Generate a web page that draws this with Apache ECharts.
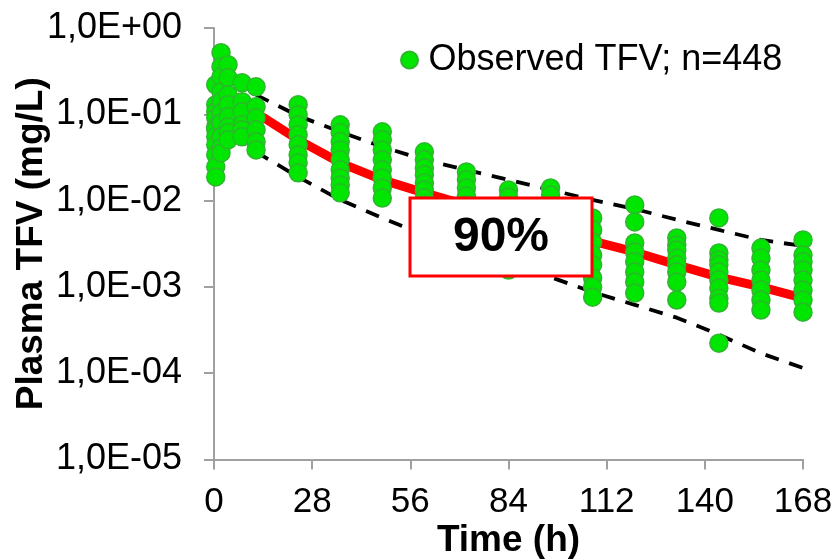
<!DOCTYPE html>
<html>
<head>
<meta charset="utf-8">
<script src="https://cdn.jsdelivr.net/npm/echarts@6/dist/echarts.min.js"></script>
<style>
  html, body { margin: 0; padding: 0; background: #ffffff; }
  #chart { width: 838px; height: 560px; }
</style>
</head>
<body>
<div id="chart"></div>
<script>
// Sampling times (h) of the observed plasma tenofovir (TFV) concentrations
const obsTimes = [0.5, 2, 4, 8, 12, 24, 36, 48, 60, 72, 84, 96, 108, 120, 132, 144, 156, 168];

// Observed concentrations (mg/L), one list per sampling time
const obsConc = [
  [0.220, 0.129, 0.107, 0.091, 0.0716, 0.0661, 0.0548, 0.0443, 0.0339, 0.0246, 0.0188],
  [0.517, 0.356, 0.272, 0.182, 0.140, 0.104, 0.0797, 0.0548, 0.0408, 0.0357],
  [0.375, 0.265, 0.168, 0.129, 0.0935, 0.0716, 0.061, 0.0506],
  [0.232, 0.140, 0.107, 0.0755, 0.0661, 0.0548],
  [0.208, 0.122, 0.091, 0.0661, 0.048, 0.0387],
  [0.129, 0.0986, 0.0755, 0.0578, 0.0443, 0.0339, 0.0274, 0.0210],
  [0.0755, 0.061, 0.048, 0.0387, 0.0297, 0.0227, 0.0183, 0.0152, 0.0123],
  [0.0627, 0.0506, 0.0387, 0.0297, 0.0227, 0.0183, 0.0140, 0.0107],
  [0.0367, 0.0297, 0.0239, 0.0199, 0.0160, 0.0133, 0.0107, 0.0089, 0.0074],
  [0.0215, 0.0174, 0.0140, 0.0113, 0.0089, 0.0068, 0.00523],
  [0.0133, 0.0110, 0.0078, 0.00523, 0.0035, 0.00234, 0.00157],
  [0.0140, 0.0116, 0.0078, 0.00523, 0.0035, 0.00234],
  [0.0063, 0.00457, 0.00332, 0.00234, 0.0018, 0.00127, 0.000998, 0.00076],
  [0.0089, 0.00566, 0.00323, 0.00254, 0.00195, 0.00149, 0.00114, 0.00085],
  [0.00369, 0.00306, 0.00268, 0.00216, 0.0018, 0.00149, 0.00114, 0.000705],
  [0.0063, 0.00247, 0.00205, 0.0018, 0.00149, 0.0012, 0.00097, 0.00074, 0.00065, 0.000223],
  [0.00282, 0.00216, 0.00157, 0.0012, 0.00092, 0.000705, 0.00054],
  [0.0035, 0.00234, 0.00195, 0.00157, 0.0012, 0.00092, 0.000705, 0.00051]
];

// Model prediction: median and 90% prediction interval (5th / 95th percentiles)
const predTimes = [12, 24, 36, 48, 60, 72, 84, 96, 108, 120, 132, 144, 156, 168];
const predMedian = [0.104, 0.0506, 0.0274, 0.0174, 0.0123, 0.0089, 0.00647, 0.0047, 0.0034, 0.00254, 0.0018, 0.0013, 0.001, 0.00074];
const predP95 = [0.168, 0.096, 0.0627, 0.042, 0.0297, 0.0227, 0.0174, 0.0133, 0.0102, 0.008, 0.006, 0.00457, 0.0035, 0.00298];
const predP05 = [0.0367, 0.0188, 0.0102, 0.0063, 0.004, 0.00268, 0.00184, 0.0013, 0.00087, 0.00062, 0.00044, 0.00028, 0.00017, 0.000115];

// Axis tick labels
const xTicks = [0, 28, 56, 84, 112, 140, 168];
const yTickLabels = ['1,0E-05', '1,0E-04', '1,0E-03', '1,0E-02', '1,0E-01', '1,0E+00'];

const obsName = 'Observed TFV; n=448';
const FONT = '"Liberation Sans", Arial, sans-serif';

const obsPoints = [];
obsTimes.forEach((t, i) => obsConc[i].forEach(c => obsPoints.push([t, c])));
const pair = arr => predTimes.map((t, i) => [t, arr[i]]);

const chart = echarts.init(document.getElementById('chart'), null, { renderer: 'canvas' });

const axisGray = '#a0a0a0';

chart.setOption({
  animation: false,
  backgroundColor: '#ffffff',
  grid: { left: 214, right: 35, top: 28, bottom: 100.5, containLabel: false, outerBoundsMode: 'none' },
  legend: {
    data: [obsName],
    left: 395,
    top: 37,
    itemWidth: 28,
    itemHeight: 17,
    icon: 'circle',
    textStyle: { fontFamily: FONT, fontSize: 36, color: '#000000' },
    selectedMode: false
  },
  xAxis: {
    type: 'value',
    min: 0,
    max: 168,
    interval: 28,
    name: 'Time (h)',
    nameLocation: 'middle',
    nameGap: 63,
    nameMoveOverlap: false,
    nameTextStyle: { fontFamily: FONT, fontSize: 37, fontWeight: 'bold', color: '#000000' },
    axisLine: { show: true, onZero: false, lineStyle: { color: axisGray, width: 2 } },
    axisTick: { show: true, inside: false, length: 10, lineStyle: { color: axisGray, width: 2 } },
    splitLine: { show: false },
    axisLabel: {
      margin: 25,
      fontFamily: FONT,
      fontSize: 35,
      color: '#000000',
      formatter: v => (xTicks.indexOf(v) >= 0 ? String(v) : '')
    }
  },
  yAxis: {
    type: 'log',
    logBase: 10,
    min: 1e-5,
    max: 1,
    name: 'Plasma TFV (mg/L)',
    nameLocation: 'middle',
    nameGap: 164,
    nameRotate: 90,
    nameMoveOverlap: false,
    nameTextStyle: { fontFamily: FONT, fontSize: 37, fontWeight: 'bold', color: '#000000' },
    axisLine: { show: true, lineStyle: { color: axisGray, width: 2 } },
    axisTick: { show: true, inside: false, length: 10, lineStyle: { color: axisGray, width: 2 } },
    splitLine: { show: false },
    minorTick: { show: false },
    axisLabel: {
      margin: 32,
      fontFamily: FONT,
      fontSize: 36,
      color: '#000000',
      formatter: v => {
        const idx = Math.round(Math.log10(v)) + 5;
        return yTickLabels[idx] !== undefined ? yTickLabels[idx] : '';
      }
    }
  },
  series: [
    {
      name: '5th percentile',
      type: 'line',
      data: pair(predP05),
      showSymbol: false,
      symbol: 'none',
      z: 2,
      lineStyle: { color: '#000000', width: 3.8, type: [14, 11] }
    },
    {
      name: '95th percentile',
      type: 'line',
      data: pair(predP95),
      showSymbol: false,
      symbol: 'none',
      z: 2,
      lineStyle: { color: '#000000', width: 3.8, type: [14, 11] }
    },
    {
      name: 'Median',
      type: 'line',
      data: pair(predMedian),
      showSymbol: false,
      symbol: 'none',
      z: 3,
      lineStyle: { color: '#ff0000', width: 9, cap: 'round', join: 'round' }
    },
    {
      name: obsName,
      type: 'scatter',
      data: obsPoints,
      symbol: 'circle',
      symbolSize: 18,
      z: 4,
      clip: false,
      itemStyle: { color: '#00e600', borderColor: '#2fb52f', borderWidth: 1.5, opacity: 1 }
    }
  ],
  graphic: {
    elements: [
      {
        type: 'rect',
        z: 100,
        zlevel: 1,
        shape: { x: 410, y: 198, width: 182, height: 78 },
        style: { fill: '#ffffff', stroke: '#ff0000', lineWidth: 3 }
      },
      {
        type: 'text',
        z: 101,
        zlevel: 1,
        x: 501,
        y: 238,
        style: {
          text: '90%',
          font: 'bold 48px "Liberation Sans", Arial, sans-serif',
          fill: '#000000',
          textAlign: 'center',
          textVerticalAlign: 'middle'
        }
      }
    ]
  }
});
</script>
</body>
</html>
